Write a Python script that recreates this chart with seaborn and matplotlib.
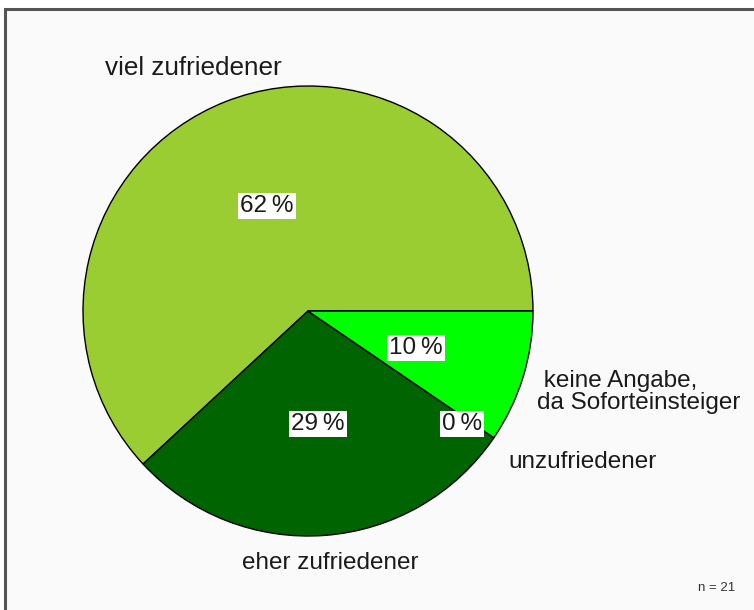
import matplotlib
matplotlib.use("Agg")
import matplotlib.pyplot as plt
import seaborn as sns
from matplotlib.patches import Rectangle

sns.set_theme(style="white")
plt.rcParams['font.family'] = ['Liberation Sans', 'DejaVu Sans']

# Data
categories = ["viel zufriedener", "eher zufriedener", "unzufriedener",
              "keine Angabe,\nda Soforteinsteiger"]
counts = [13, 6, 0, 2]
pct_labels = ["62\u2009%", "29\u2009%", "0\u2009%", "10\u2009%"]
colors = ["#9ACD32", "#006400", "#00A000", "#00FF00"]
n_label = "n = 21"

W, H = 754, 610
fig = plt.figure(figsize=(W / 100, H / 100), dpi=100)
fig.patch.set_facecolor("white")
ax = fig.add_axes([0, 0, 1, 1])

# frame
ax.add_patch(Rectangle((5, -10), W + 20, H - 9 + 10, facecolor="#fafafa",
                       edgecolor="#555555", linewidth=2.2, zorder=0))

cx, cy, r = 308, H - 311, 225
wedges, _ = ax.pie(counts, colors=colors, startangle=0, counterclock=True,
                   center=(cx, cy), radius=r, frame=True,
                   wedgeprops=dict(edgecolor="black", linewidth=1.0))
ax.set_xlim(0, W)
ax.set_ylim(0, H)
ax.set_aspect("equal")
ax.axis("off")

fs = 17.5
txt = "#1a1a1a"
# category labels (pixel positions from top-left)
cat_pos = [(193, 68, "center", 18.8), (330, 563, "center", fs),
           (508, 462, "left", fs), (537, 392, "left", fs)]
for lab, (x, y, ha, size) in zip(categories, cat_pos):
    if lab.startswith("keine"):
        lab = " " + lab
    ax.text(x, H - y, lab, ha=ha, va="center", fontsize=size, color=txt,
            multialignment="left", linespacing=1.0)

pct_pos = [(267, 206), (318, 424), (462, 424), (416, 348)]
for lab, (x, y) in zip(pct_labels, pct_pos):
    ax.text(x, H - y, lab, ha="center", va="center", fontsize=fs, color=txt,
            bbox=dict(facecolor="white", edgecolor="none", pad=1.5))

ax.text(735, H - 588, n_label, ha="right", va="center", fontsize=9.5, color="#333333")

fig.savefig("out.png", dpi=100, facecolor="white")
